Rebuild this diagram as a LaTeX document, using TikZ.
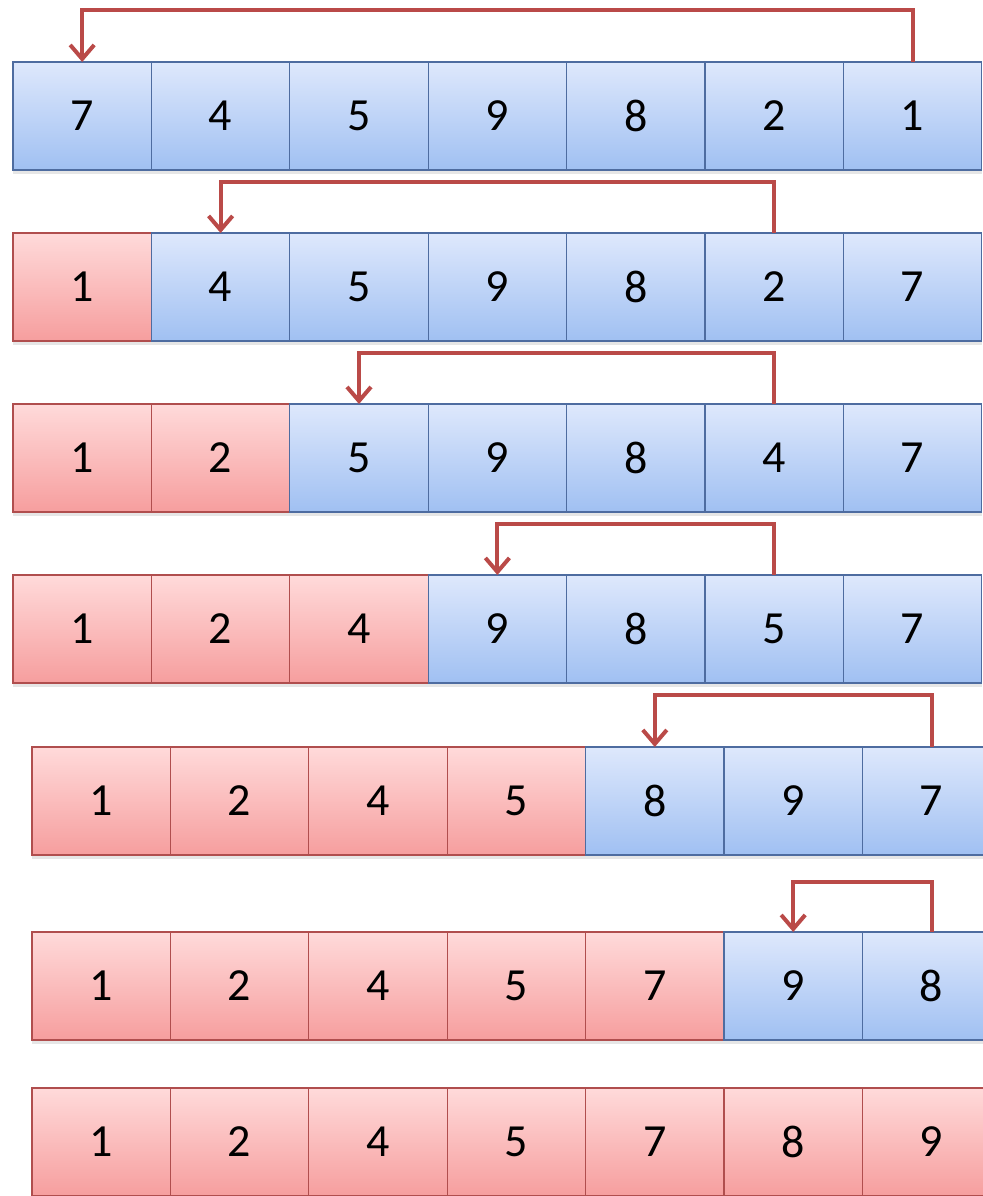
\documentclass[tikz,border=0pt]{standalone}
\usepackage{fontspec}
\setmainfont{Carlito}
\usetikzlibrary{positioning,arrows.meta,shadows}
\definecolor{bluetop}{RGB}{222,232,252}
\definecolor{bluebot}{RGB}{160,192,242}
\definecolor{blueline}{RGB}{78,108,160}
\definecolor{redtop}{RGB}{255,218,218}
\definecolor{redbot}{RGB}{246,158,158}
\definecolor{redline}{RGB}{176,78,78}
\definecolor{swapred}{RGB}{186,74,72}

\begin{document}
\begin{tikzpicture}[x=0.5pt,y=-0.5pt,
  cell/.style={draw, line width=0.6pt, minimum width=69.2pt, minimum height=54pt,
    inner sep=0pt, outer sep=0pt, anchor=north west,
    font=\fontsize{23}{26}\selectfont,
    drop shadow={shadow xshift=0pt, shadow yshift=-2pt, opacity=0.2}},
  todo/.style={cell, draw=blueline, top color=bluetop, bottom color=bluebot},
  done/.style={cell, draw=redline, top color=redtop, bottom color=redbot},
  swapline/.style={draw=swapred, line width=2pt,
    -{Straight Barb[length=7pt,width=12pt]}}]
  \useasboundingbox (0,0) rectangle (982,1196);

  % one row per pass: row / left / top / sorted cells / values
  \foreach \row/\xl/\yt/\nsorted/\vals in {
      1/13/62/0/{7,4,5,9,8,2,1},
      2/13/233/1/{1,4,5,9,8,2,7},
      3/13/404/2/{1,2,5,9,8,4,7},
      4/13/575/3/{1,2,4,9,8,5,7},
      5/32/747/4/{1,2,4,5,8,9,7},
      6/32/932/5/{1,2,4,5,7,9,8},
      7/32/1088/7/{1,2,4,5,7,8,9}}{
    \foreach \v [count=\i] in \vals {
      \ifnum\i>\nsorted\def\st{todo}\else\def\st{done}\fi
      \node[\st] (r\row-\i) at ({\xl+(\i-1)*138.4},\yt) {\v};
    }
  }

  % swaps
  \draw[swapline] (r1-7.north) -- ++(0,-52) -| (r1-1.north);
  \draw[swapline] (r2-6.north) -- ++(0,-51) -| (r2-2.north);
  \draw[swapline] (r3-6.north) -- ++(0,-51) -| (r3-3.north);
  \draw[swapline] (r4-6.north) -- ++(0,-51) -| (r4-4.north);
  \draw[swapline] (r5-7.north) -- ++(0,-52) -| (r5-5.north);
  \draw[swapline] (r6-7.north) -- ++(0,-50) -| (r6-6.north);
\end{tikzpicture}
\end{document}
